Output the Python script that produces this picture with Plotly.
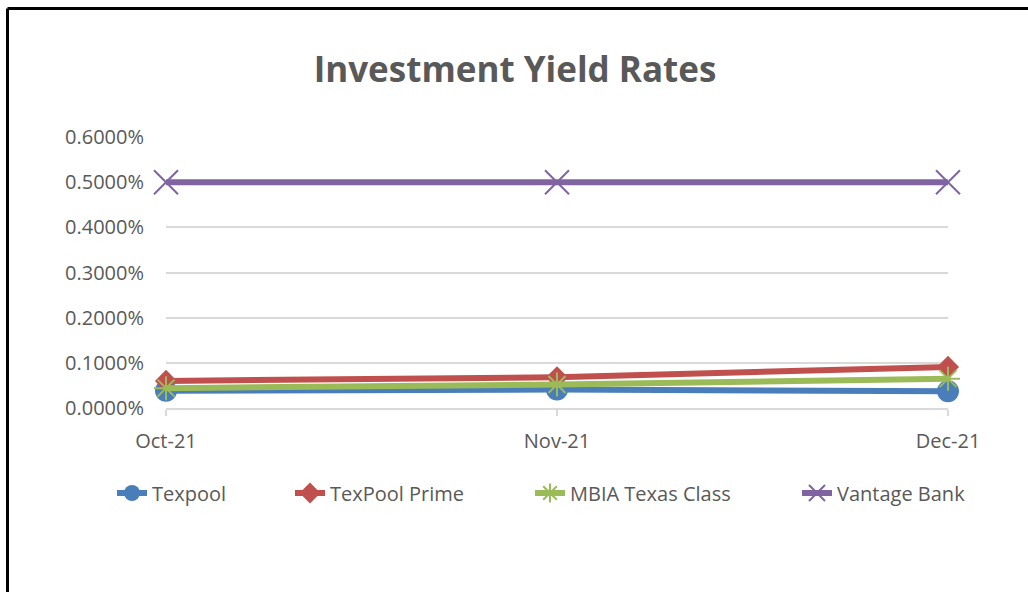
import plotly.graph_objects as go

months = ["Oct-21", "Nov-21", "Dec-21"]
texpool = [0.038, 0.041, 0.037]
texpool_prime = [0.060, 0.068, 0.091]
mbia = [0.044, 0.052, 0.065]
vantage = [0.50, 0.50, 0.50]
y_ticks = [0.0, 0.1, 0.2, 0.3, 0.4, 0.5, 0.6]
y_labels = [f"{v:.4f}%" for v in y_ticks]

FONT = "Open Sans"
GRAY = "#595959"

# plot area in page pixels
L, R, T, B = 166, 948, 137, 408
W, H = 1028, 592
PW, PH = R - L, B - T

def px_x(x):
    return (x - L) / PW

def px_y(y):
    return (B - y) / PH

series = [
    ("Texpool", texpool, "#4A7EBB", dict(symbol="circle", size=22), 152),
    ("TexPool Prime", texpool_prime, "#C0504D", dict(symbol="diamond", size=17), 330),
    ("MBIA Texas Class", mbia, "#9BBB59",
     dict(symbol="asterisk-open", size=20, line=dict(width=2, color="#9BBB59")), 570),
    ("Vantage Bank", vantage, "#8064A2",
     dict(symbol="x-thin-open", size=24, line=dict(width=2, color="#8064A2")), 837),
]

fig = go.Figure()
legend_layout = {}
for i, (name, vals, color, mk, text_x) in enumerate(series):
    mk = dict(mk)
    mk["color"] = color
    lg = "legend" if i == 0 else f"legend{i + 1}"
    fig.add_trace(go.Scatter(
        x=months, y=vals, name=name, mode="lines+markers",
        line=dict(color=color, width=6), marker=mk, legend=lg,
        cliponaxis=False,
    ))
    legend_layout[lg] = dict(
        x=px_x(text_x - 40), xanchor="left", y=px_y(493), yanchor="middle",
        orientation="h", bgcolor="rgba(0,0,0,0)", borderwidth=0,
        font=dict(family=FONT, size=20, color=GRAY), itemwidth=30,
    )

fig.update_layout(
    width=W, height=H,
    paper_bgcolor="white", plot_bgcolor="white",
    margin=dict(l=L, r=W - R, t=T, b=H - B, autoexpand=False),
    title=dict(text="<b>Investment Yield Rates</b>", x=515 / W, xanchor="center",
               xref="container",
               y=1 - 70 / H, yanchor="middle",
               font=dict(family=FONT, size=35, color=GRAY)),
    font=dict(family=FONT, size=20, color=GRAY),
    showlegend=True,
    xaxis=dict(
        type="category", range=[0, 2], showgrid=False,
        showline=True, linecolor="#D9D9D9", linewidth=2,
        ticks="outside", ticklen=6, tickcolor="#D9D9D9", tickwidth=2,
        tickfont=dict(family=FONT, size=20, color=GRAY),
        ticklabelstandoff=8,
    ),
    yaxis=dict(
        range=[0, 0.6], tickvals=y_ticks, ticktext=y_labels,
        showgrid=True, gridcolor="#D9D9D9", gridwidth=2,
        zeroline=False, showline=False,
        tickfont=dict(family=FONT, size=20, color=GRAY),
        ticklabelstandoff=21,
    ),
    **legend_layout,
)

# outer chart border (left and top edges visible)
fig.add_shape(type="line", xref="paper", yref="paper",
              x0=px_x(7.5), x1=px_x(W + 10), y0=px_y(8.5), y1=px_y(8.5),
              line=dict(color="black", width=3))
fig.add_shape(type="line", xref="paper", yref="paper",
              x0=px_x(7.5), x1=px_x(7.5), y0=px_y(8.5), y1=px_y(H + 10),
              line=dict(color="black", width=3))

fig.write_html("out.html", config={"displayModeBar": False},
               post_script="document.body.style.margin='0';")
